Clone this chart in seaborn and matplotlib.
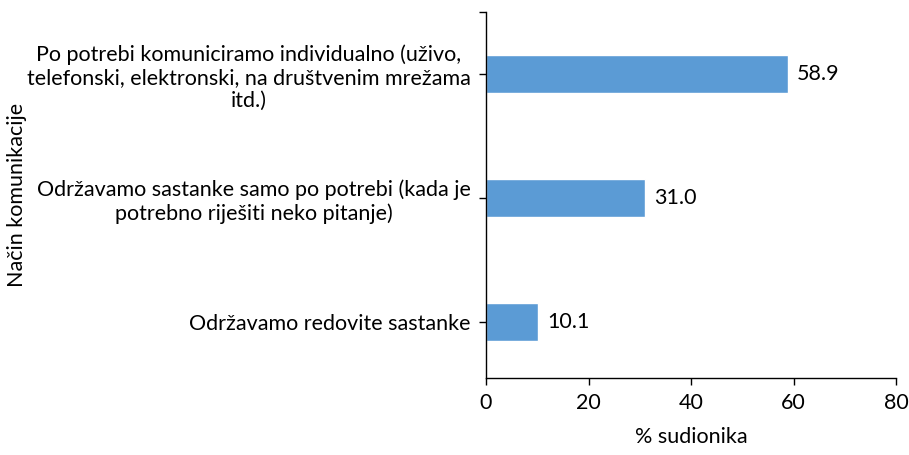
import matplotlib
matplotlib.use("Agg")
import matplotlib.pyplot as plt
import seaborn as sns
import pandas as pd

categories = [
    "Po potrebi komuniciramo individualno (uživo,\ntelefonski, elektronski, na društvenim mrežama\nitd.)",
    "Održavamo sastanke samo po potrebi (kada je\npotrebno riješiti neko pitanje)",
    "Održavamo redovite sastanke",
]
values = [58.9, 31.0, 10.1]
x_ticks = [0, 20, 40, 60, 80]

sns.set_style("ticks", {'text.color': 'black', 'axes.labelcolor': 'black',
                        'xtick.color': 'black', 'ytick.color': 'black',
                        'axes.edgecolor': 'black'})
plt.rcParams['font.family'] = ['Lato', 'DejaVu Sans']
fs = 15.5

df = pd.DataFrame({'nacin': categories, 'pct': values})

fig = plt.figure(figsize=(9.09, 4.55), dpi=100)
ax = fig.add_axes([0.5347, 0.1692, 0.4510, 0.8044])

sns.barplot(data=df, y='nacin', x='pct', orient='h', color='#5B9BD5',
            width=0.31, saturation=1, ax=ax)

for i, v in enumerate(values):
    ax.text(v + 1.8, i, f"{v:.1f}", va='center', ha='left', fontsize=fs, color='black')

ax.set_xlim(0, 80)
ax.set_ylim(2.45, -0.5)
ax.set_xticks(x_ticks)
ax.tick_params(axis='x', labelsize=fs, length=5, width=1, pad=6, colors='black')
ax.tick_params(axis='y', labelsize=fs, length=5, width=1, pad=6, colors='black')
for lab in ax.get_yticklabels():
    lab.set_multialignment('center')
ax.set_yticks([-0.5], minor=True)
ax.tick_params(axis='y', which='minor', length=5, width=1, colors='black')

ax.set_xlabel("% sudionika", fontsize=fs, labelpad=10, color='black')
ax.set_ylabel("Način komunikacije", fontsize=fs, color='black')
ax.yaxis.set_label_coords(-1.12, 0.5)

sns.despine(ax=ax)
for s in ['left', 'bottom']:
    ax.spines[s].set_color('black')
    ax.spines[s].set_linewidth(1)

fig.savefig("out.png", dpi=100)
